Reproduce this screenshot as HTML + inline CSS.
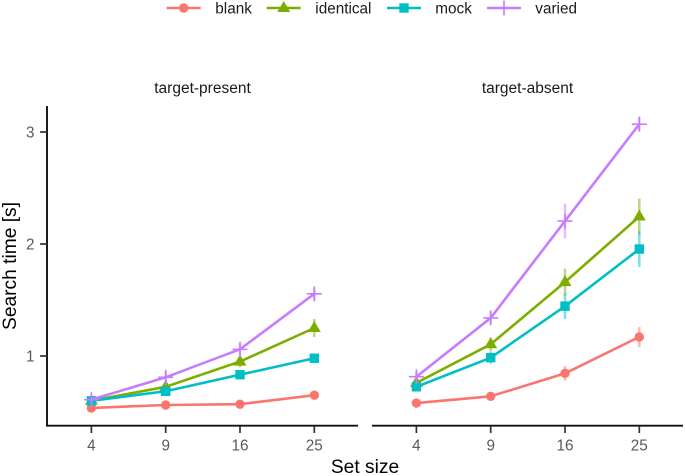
<!DOCTYPE html>
<html>
<head>
<meta charset="utf-8">
<style>
html,body{margin:0;padding:0;background:#fff;}
svg{display:block;filter:blur(0.35px);}
text{font-family:"Liberation Sans",sans-serif;}
</style>
</head>
<body>
<svg id="chart" width="685" height="476" viewBox="0 0 685 476" xmlns="http://www.w3.org/2000/svg"></svg>
<script>
const setSizes = ['4', '9', '16', '25'];
const yTicks = [1, 2, 3];
const seriesNames = ['blank', 'identical', 'mock', 'varied'];
const panelTitles = ['target-present', 'target-absent'];

const presentBlank = [0.536, 0.5625, 0.57, 0.65];
const presentIdentical = [0.60, 0.725, 0.95, 1.25];
const presentMock = [0.60, 0.685, 0.833, 0.98];
const presentVaried = [0.61, 0.81, 1.06, 1.555];
const absentBlank = [0.58, 0.64, 0.845, 1.17];
const absentIdentical = [0.76, 1.105, 1.66, 2.245];
const absentMock = [0.725, 0.985, 1.445, 1.955];
const absentVaried = [0.815, 1.34, 2.205, 3.07];

const presentBlankErr = [0.02, 0.02, 0.02, 0.03];
const presentIdenticalErr = [0.03, 0.03, 0.05, 0.08];
const presentMockErr = [0.02, 0.02, 0.03, 0.04];
const presentVariedErr = [0.03, 0.05, 0.05, 0.05];
const absentBlankErr = [0.03, 0.03, 0.065, 0.09];
const absentIdenticalErr = [0.04, 0.06, 0.12, 0.16];
const absentMockErr = [0.03, 0.055, 0.115, 0.16];
const absentVariedErr = [0.04, 0.05, 0.155, 0.06];

const colors = ['#F8766D', '#7CAE00', '#00BFC4', '#C77CFF'];
const svg = document.getElementById('chart');
const NS = 'http://www.w3.org/2000/svg';

function make(tag, attrs, parent) {
  const el = document.createElementNS(NS, tag);
  for (const k in attrs) el.setAttribute(k, attrs[k]);
  (parent || svg).appendChild(el);
  return el;
}
function yScale(v) { return 356 - (v - 1) * 112; }
function xScale(panelLeft, i) { return panelLeft + 44.4 + i * 74.3; }

function drawMarker(kind, x, y, color, parent) {
  if (kind === 0) {
    make('circle', {cx: x, cy: y, r: 4.7, fill: color}, parent);
  } else if (kind === 1) {
    make('polygon', {points: `${x},${y - 7} ${x + 6.5},${y + 4} ${x - 6.5},${y + 4}`, fill: color}, parent);
  } else if (kind === 2) {
    make('rect', {x: x - 4.7, y: y - 4.7, width: 9.4, height: 9.4, fill: color}, parent);
  } else {
    make('path', {d: `M${x - 7.5} ${y}H${x + 7.5}M${x} ${y - 7.5}V${y + 7.5}`, stroke: color, 'stroke-width': 1.6, fill: 'none'}, parent);
  }
}

function drawPanel(panelIndex, left, right, seriesValues, seriesErrors) {
  const panel = make('g', {});
  
  

  const title = make('text', {x: (left + right) / 2, y: 93, 'text-anchor': 'middle', 'font-size': 15.5, fill: '#1a1a1a'}, panel);
  title.textContent = panelTitles[panelIndex];
  
  

  const xAxis = make('line', {x1: left, x2: right, y1: 425.7, y2: 425.7, stroke: '#111', 'stroke-width': 1.9}, panel);
  
  

  setSizes.forEach((label, i) => {
    const x = xScale(left, i);
    const tick = make('line', {x1: x, x2: x, y1: 426, y2: 433, stroke: '#333', 'stroke-width': 1.7}, panel);
    
    
    const t = make('text', {x: x, y: 450.7, 'text-anchor': 'middle', 'font-size': 15.3, fill: '#595959'}, panel);
    t.textContent = label;
    
    
  });

  seriesValues.forEach((vals, s) => {
    const g = make('g', {}, panel);
    
    
    vals.forEach((v, i) => {
      const x = xScale(left, i);
      const bar = make('line', {x1: x, x2: x, y1: yScale(v + seriesErrors[s][i]), y2: yScale(v - seriesErrors[s][i]), stroke: colors[s], 'stroke-width': 2.5, 'stroke-opacity': 0.5}, g);
      
      
    });
    const line = make('polyline', {points: vals.map((v, i) => xScale(left, i) + ',' + yScale(v)).join(' '), fill: 'none', stroke: colors[s], 'stroke-width': 2.6}, g);
    
    
    vals.forEach((v, i) => {
      drawMarker(s, xScale(left, i), yScale(v), colors[s], g);
    });
  });
}

// y axis
const yAxis = make('line', {x1: 47, x2: 47, y1: 106, y2: 426.6, stroke: '#111', 'stroke-width': 1.9});


yTicks.forEach(v => {
  const y = yScale(v);
  const tick = make('line', {x1: 40, x2: 47, y1: y, y2: y, stroke: '#333', 'stroke-width': 1.7});
  
  
  const t = make('text', {x: 34.5, y: y + 5.5, 'text-anchor': 'end', 'font-size': 15.3, fill: '#595959'});
  t.textContent = v;
  
  
});

drawPanel(0, 47, 358, [presentBlank, presentIdentical, presentMock, presentVaried],
  [presentBlankErr, presentIdenticalErr, presentMockErr, presentVariedErr]);
drawPanel(1, 372, 683, [absentBlank, absentIdentical, absentMock, absentVaried],
  [absentBlankErr, absentIdenticalErr, absentMockErr, absentVariedErr]);

// axis titles
const yTitle = make('text', {x: 0, y: 0, transform: 'translate(16,266) rotate(-90)', 'text-anchor': 'middle', 'font-size': 19.2, fill: '#000'});
yTitle.textContent = 'Search time [s]';


const xTitle = make('text', {x: 365, y: 473, 'text-anchor': 'middle', 'font-size': 19.2, fill: '#000'});
xTitle.textContent = 'Set size';



// legend
const legendKeyX = [183.7, 283.7, 404, 504];
const legendLabelX = [215.3, 315.3, 435.3, 535.3];
const legend = make('g', {});


seriesNames.forEach((name, s) => {
  const g = make('g', {}, legend);
  
  
  const k = legendKeyX[s];
  make('line', {x1: k - 17, x2: k + 17, y1: 8, y2: 8, stroke: colors[s], 'stroke-width': 2.6}, g);
  drawMarker(s, k, 8, colors[s], g);
  const t = make('text', {x: legendLabelX[s], y: 13.5, 'font-size': 15.3, fill: '#1a1a1a'}, g);
  t.textContent = name;
});
</script>
</body>
</html>
